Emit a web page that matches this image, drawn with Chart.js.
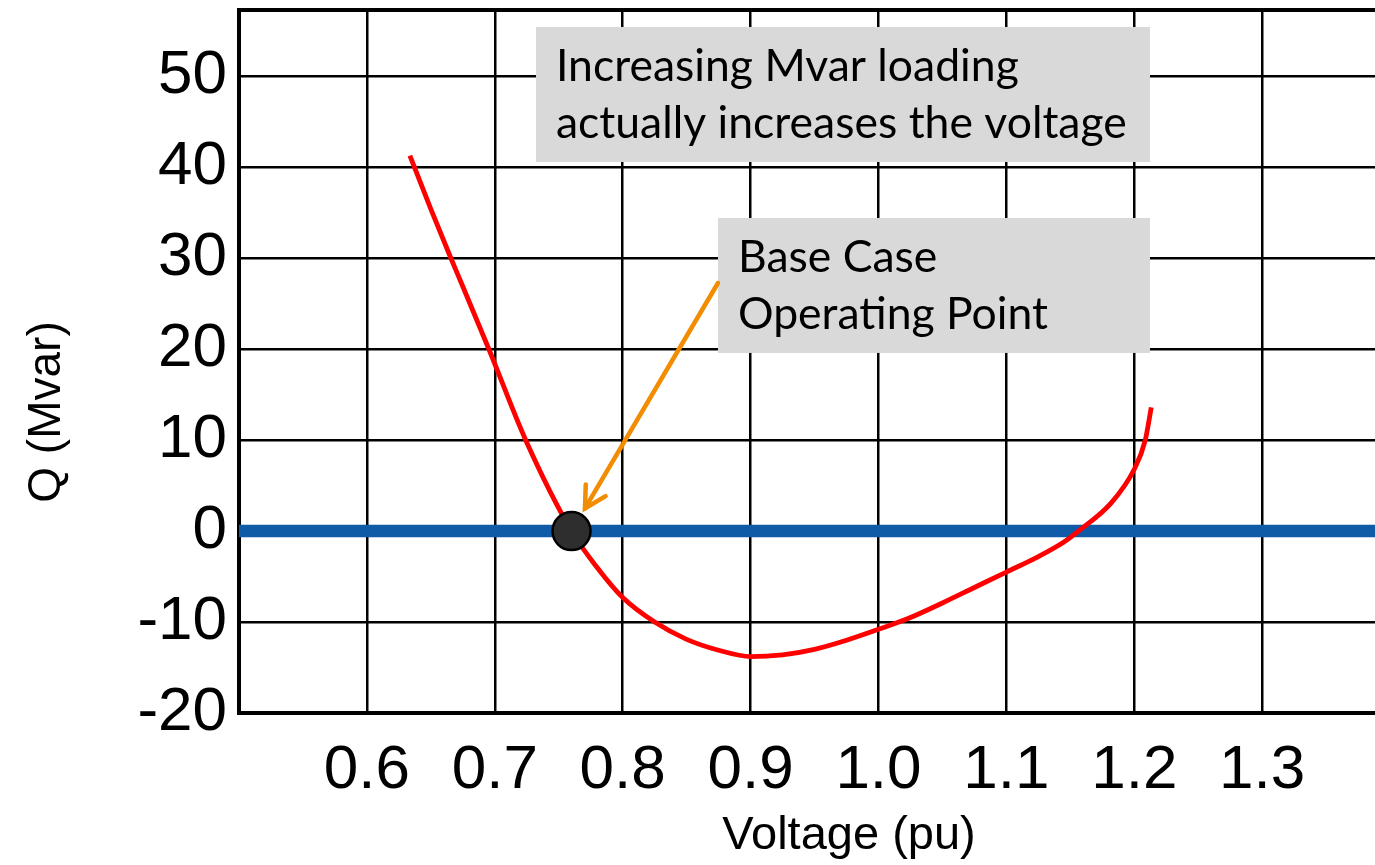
<!DOCTYPE html>
<html>
<head>
<meta charset="utf-8">
<script src="https://cdn.jsdelivr.net/npm/chart.js@4.4.1/dist/chart.umd.min.js"></script>
<style>
html,body{margin:0;padding:0;overflow:hidden;background:#fff;width:1375px;height:865px}
#wrap{position:absolute;left:0;top:0;width:1459px;height:865px}
</style>
</head>
<body>
<div id="wrap"><canvas id="c" width="1459" height="865"></canvas></div>
<script>
// ---- data ----
const voltage = [0.6336, 0.650, 0.6657, 0.675, 0.6954, 0.7242, 0.760, 0.780, 0.800, 0.825, 0.850, 0.875, 0.900, 0.925, 0.950, 0.975, 1.000, 1.025, 1.050, 1.075, 1.100, 1.125, 1.145, 1.1563, 1.182, 1.200, 1.2086, 1.2133];
const qMvar   = [41.3,   35.4,  30.0,   26.9,  20.0,   10.0,   0.0,   -4.0,  -7.3,  -10.0, -11.9, -13.1, -13.8, -13.6, -13.0, -12.0, -10.8, -9.5,  -7.9,  -6.2,  -4.5,  -2.8,  -1.2,  0.0,    3.1,   6.8,   10.0,   13.6];
const operatingVoltage = [0.760];
const operatingQ = [0.0];
const zeroLineVoltage = [0.5, 1.4539];
const zeroLineQ = [0, 0];
const xTickValues = [0.6, 0.7, 0.8, 0.9, 1.0, 1.1, 1.2, 1.3];
const xTickLabels = ['0.6', '0.7', '0.8', '0.9', '1.0', '1.1', '1.2', '1.3'];
const yTickValues = [-20, -10, 0, 10, 20, 30, 40, 50];
const yTickLabels = ['-20', '-10', '0', '10', '20', '30', '40', '50'];
const xTitle = 'Voltage (pu)';
const yTitle = 'Q (Mvar)';
const note1Lines = ['Increasing Mvar loading', 'actually increases the voltage'];
const note2Lines = ['Base Case', 'Operating Point'];
// annotation anchors in data units
const note1Box = [0.7322, 1.2123, 55.43, 40.59];
const note2Box = [0.8745, 1.2123, 34.43, 19.59];
const arrowFrom = [0.8745, 27.28];
const arrowTo = [0.7705, 2.5];

const AX = '"Liberation Sans", Arial, sans-serif';
const NOTE_FONT = 'Lato, "Open Sans", sans-serif';

const annotPlugin = {
  id: 'annot',
  afterDraw(chart) {
    const c = chart.ctx, xs = chart.scales.x, ys = chart.scales.y;
    const X = v => xs.getPixelForValue(v), Y = v => ys.getPixelForValue(v);
    c.save();
    function box(b, lines) {
      const l = X(b[0]), r = X(b[1]), t = Y(b[2]), bo = Y(b[3]);
      c.fillStyle = '#d9d9d9';
      c.fillRect(l, t, r - l, bo - t);
      c.fillStyle = '#000';
      c.font = '44.5px ' + NOTE_FONT;
      c.textAlign = 'left';
      c.textBaseline = 'alphabetic';
      lines.forEach((s, i) => c.fillText(s, l + 20, t + 54 + i * 57));
    }
    box(note1Box, note1Lines);
    box(note2Box, note2Lines);
    // arrow
    const x0 = X(arrowFrom[0]), y0 = Y(arrowFrom[1]), x1 = X(arrowTo[0]), y1 = Y(arrowTo[1]);
    c.strokeStyle = '#f28c00';
    c.lineWidth = 4.5;
    c.lineCap = 'round';
    c.beginPath(); c.moveTo(x0, y0); c.lineTo(x1, y1); c.stroke();
    const ang = Math.atan2(y0 - y1, x0 - x1);
    const len = 24, spread = 0.5;
    c.beginPath();
    c.moveTo(x1 + len * Math.cos(ang - spread), y1 + len * Math.sin(ang - spread));
    c.lineTo(x1, y1);
    c.lineTo(x1 + len * Math.cos(ang + spread), y1 + len * Math.sin(ang + spread));
    c.stroke();
    // y axis title
    c.fillStyle = '#000';
    c.font = '46px ' + AX;
    c.textAlign = 'center';
    c.textBaseline = 'alphabetic';
    c.translate(60, 412);
    c.rotate(-Math.PI / 2);
    c.fillText(yTitle, 0, 0);
    c.restore();
  }
};

new Chart(document.getElementById('c'), {
  type: 'line',
  data: {
    datasets: [
      {
        label: 'Base case operating point',
        data: operatingVoltage.map((v, i) => ({x: v, y: operatingQ[i]})),
        showLine: false,
        pointRadius: 19, pointHoverRadius: 19,
        pointBackgroundColor: '#2e2e2e', pointBorderColor: '#000', pointBorderWidth: 2.5
      },
      {
        label: 'Q-V curve',
        data: voltage.map((v, i) => ({x: v, y: qMvar[i]})),
        borderColor: '#ff0000', borderWidth: 4.8, pointRadius: 0,
        cubicInterpolationMode: 'monotone', fill: false
      },
      {
        label: 'Q = 0',
        data: zeroLineVoltage.map((v, i) => ({x: v, y: zeroLineQ[i]})),
        borderColor: '#0f5ba7', borderWidth: 12.5, pointRadius: 0, borderCapStyle: 'butt', fill: false
      }
    ]
  },
  options: {
    responsive: false,
    animation: false,
    devicePixelRatio: 1,
    events: [],
    layout: {autoPadding: false, padding: {top: 10, left: 0, right: 0, bottom: 0}},
    plugins: {legend: {display: false}, tooltip: {enabled: false}},
    scales: {
      x: {
        type: 'linear', position: 'bottom', min: 0.5, max: 1.4539,
        afterFit(s) { s.height = 152; s.paddingLeft = 0; s.paddingRight = 0; },
        afterBuildTicks(s) { s.ticks = s.ticks.filter(t => t.value < 1.35); },
        ticks: {
          stepSize: 0.1, includeBounds: false, autoSkip: false, maxRotation: 0, minRotation: 0,
          color: '#000', font: {family: AX, size: 62}, padding: 21,
          callback(v) { const r = Math.round(v * 10) / 10; const i = xTickValues.indexOf(r); return i >= 0 ? xTickLabels[i] : ''; }
        },
        grid: {color: '#000', lineWidth: 2.5, drawTicks: false},
        border: {color: '#000', width: 4},
        title: {display: true, text: xTitle, color: '#000', font: {family: AX, size: 47}, padding: {top: 0, bottom: 1}}
      },
      x2: {
        type: 'linear', position: 'top', display: true,
        afterFit(s) { s.height = 0; },
        ticks: {display: false},
        grid: {display: false, drawTicks: false},
        border: {display: true, color: '#000', width: 4}
      },
      y: {
        type: 'linear', min: -20, max: 57.3,
        afterFit(s) { s.width = 239; s.paddingTop = 0; s.paddingBottom = 0; },
        ticks: {
          stepSize: 10, includeBounds: false, autoSkip: false,
          color: '#000', font: {family: AX, size: 62}, padding: 12,
          callback(v) { const i = yTickValues.indexOf(Math.round(v)); return i >= 0 ? yTickLabels[i] : ''; }
        },
        grid: {color: '#000', lineWidth: 2.5, drawTicks: false},
        border: {color: '#000', width: 4},
        title: {display: false}
      }
    }
  },
  plugins: [annotPlugin]
});
</script>
</body>
</html>
